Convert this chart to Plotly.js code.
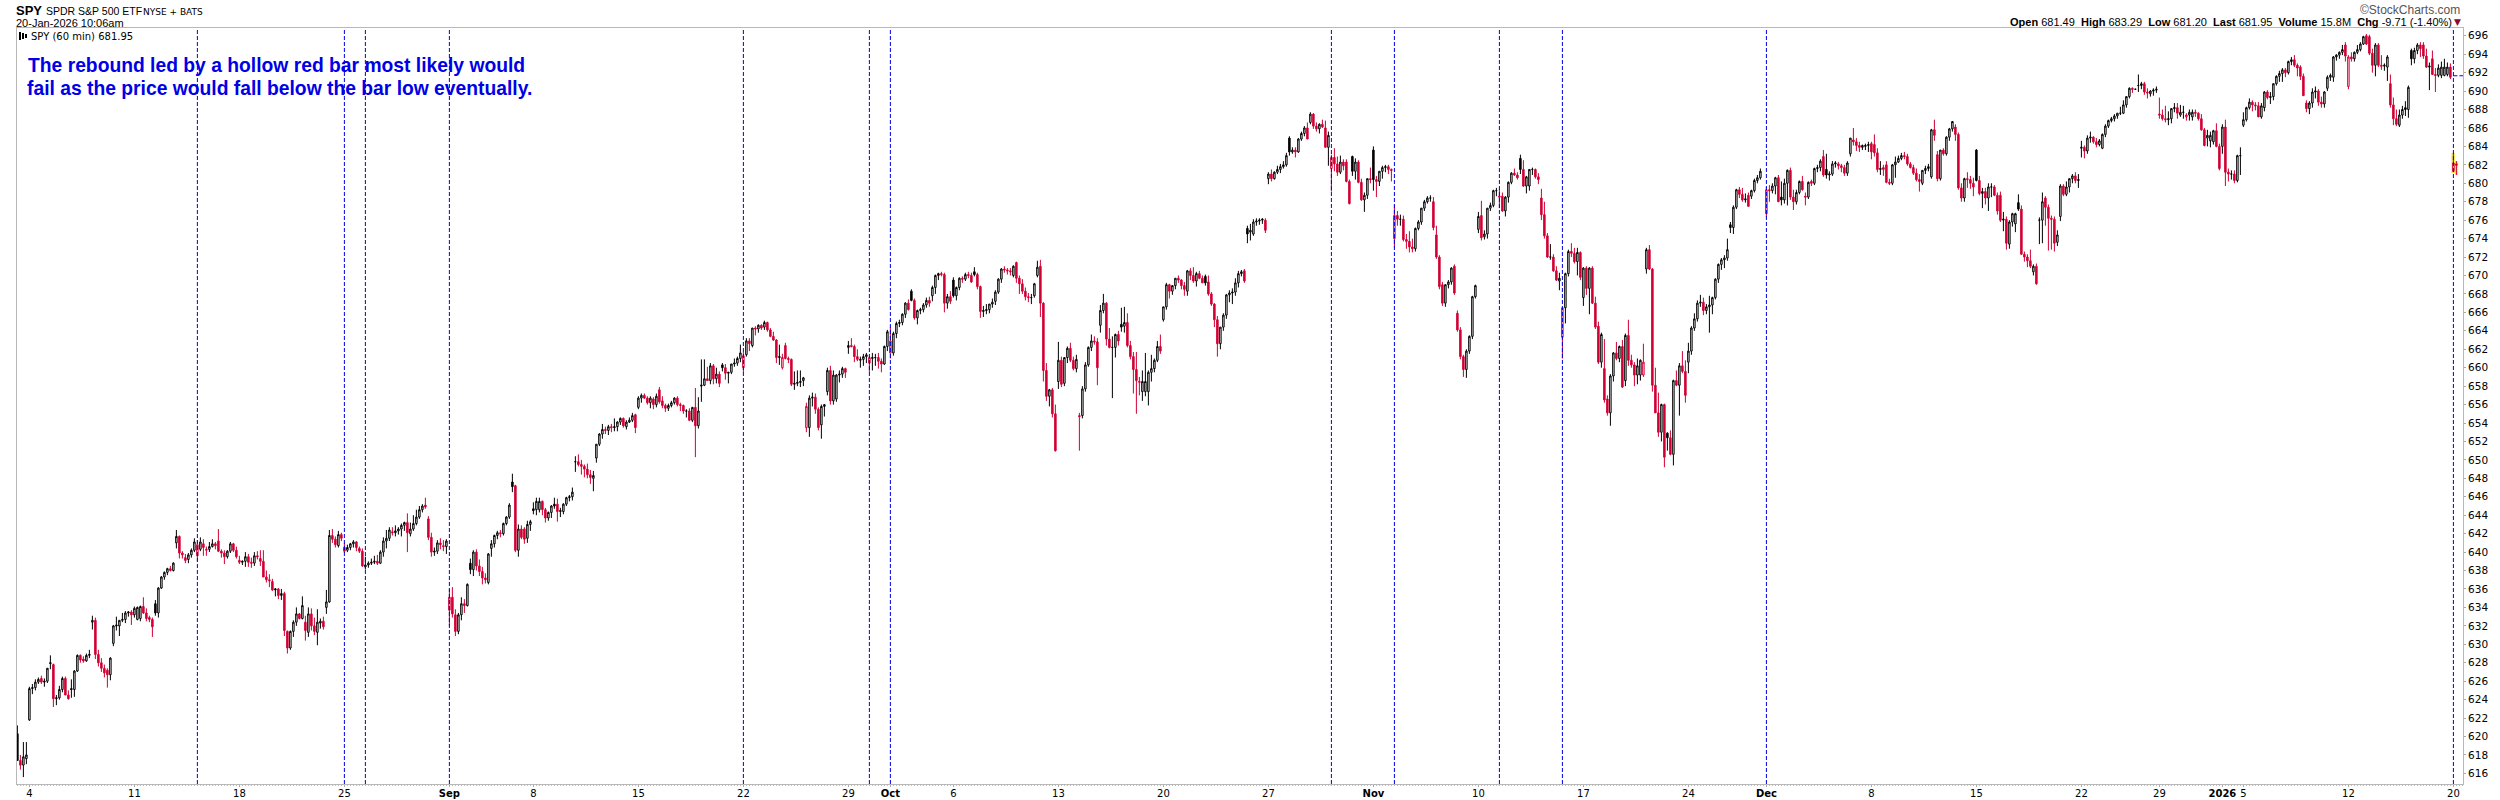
<!DOCTYPE html>
<html><head><meta charset="utf-8">
<script src="https://cdn.plot.ly/plotly-3.0.1.min.js"></script>
<style>html,body{margin:0;padding:0;background:#fff}#c{width:2500px;height:800px}</style></head>
<body><div id="c"></div>
<script>
// Each list: flat open,high,low,close per 60-minute bar.
const w0801=[620.3,621.2,617.4,617.4, 617.4,618,616.4,616.9, 616.9,619.4,615.6,617.8, 617.6,619.4,617,618];
const w0804=[621.8,625.4,621.7,625.2, 625.2,625.7,624.6,625.3, 625.3,626.2,625,625.9, 625.9,626.4,625.7,626.2, 626.3,626.6,625.7,625.9, 625.9,626.3,625.4,626, 626,627.4,625.8,627.4,
627.9,628.8,627.3,628, 627.8,627.9,623.2,624.1, 624.1,624.5,623.4,624.2, 624.2,625.5,624,625.1, 625.1,626.5,624.8,626.3, 626.3,626.5,624.5,624.5, 624.5,625,624,624.1,
625.2,626.2,624.2,625.1, 625.1,627.2,624.3,627.1, 627.1,628.9,627,628.8, 628.8,628.9,628,628.3, 628.4,628.7,628,628.2, 628.2,629,628.1,628.8, 628.8,629.4,628.5,628.9,
632.4,633.1,631.6,632.6, 632.6,632.9,628.4,628.9, 628.9,629.4,627.6,628, 628,628.5,627,627.4, 627.4,627.8,626.4,626.9, 627.2,627.4,625.3,626.7, 626.7,628.6,626.1,628.5,
630.1,632.1,629.8,632, 632.1,633,631.5,632, 632,632.4,630.9,632.6, 632.6,633.4,632.4,632.7, 632.7,633.6,632.3,633.4, 633.4,633.6,633,633.5, 633.5,633.7,632.1,633.2];
const w0811=[633.2,634.1,632.9,633.9, 632.7,634.1,632.6,634, 632.8,634.2,632.5,634.1, 634.1,635.1,633.3,633.4, 633.4,633.9,632.5,632.8, 632.9,633.1,632.4,632.7, 632.7,632.9,630.8,631.9,
634.4,634.8,633.1,633.4, 633.4,636.2,632.9,636.1, 636.1,637.4,636,637.3, 637.3,637.9,637,637.8, 637.8,638.3,637.5,638.2, 638.2,638.5,637.9,638, 638,638.9,637.9,638.8,
641,642.4,640.4,641.7, 641.7,641.8,639.3,639.9, 639.9,640.1,639.3,639.7, 639.4,639.8,638.8,639.1, 639.2,639.9,638.8,639.7, 639.7,640.4,639.4,640.2, 640.2,641.5,640,641.1,
639.6,641.3,639,640.8, 640.3,641.6,640.1,641.1, 640.9,641.4,639.6,640.5, 640.2,640.6,639.6,640.3, 640.3,641.1,640,640.6, 640.6,641.4,640.5,640.9, 640.9,641.1,640.3,640.7,
641.2,642.5,640,640.1, 640.1,640.3,639.4,639.9, 639.9,640.2,638.7,639.5, 639.5,640.2,639.3,640.1, 640.1,641.1,639.9,640.9, 640.9,641,640,640.2, 640.2,640.6,639.3,639.5];
const w0818=[639.1,639.6,638.7,638.9, 638.9,639.1,638.6,639, 639,640,638.4,639.5, 639.5,639.8,638.4,638.9, 638.9,639.4,638.3,638.8, 638.8,640,638.5,639.6, 639.6,640.1,639.2,639.5,
639.3,640.2,638.5,639, 639,640.2,637.3,637.3, 637.3,638,636.7,637, 637,637.6,636.2,636.9, 636.8,637.1,635.8,635.9, 635.9,636.1,635.2,636, 636,636.1,634.9,635.3,
635.3,636,634.8,635.5, 635.5,635.7,630.9,631.5, 631.4,631.5,629,629.6, 629.6,631.5,629.4,631.4, 631.4,632.6,630.8,632.4, 632.4,634,632,633.3, 633.3,633.4,632.7,632.8,
632.8,635.2,632.7,634.2, 632.4,633.1,630.4,631.5, 631.3,634,630.8,633.3, 633.3,633.9,631.5,632, 632,632.9,631,631.4, 631.3,633.8,629.9,632.4, 632.3,632.8,631.7,632.5,
632.5,633,631.6,631.9, 634,635.9,633.3,634.6, 634.6,642.4,634.5,641.8, 641.8,642.5,641,641.4, 641.4,641.7,640.5,640.8, 640.7,642.3,640.5,641.9, 641.9,642.1,641.2,641.5];
const w0825=[640.5,641,639.9,640.1, 640.2,640.8,640,640.5, 640.5,641,640.2,640.9, 640.9,641.3,640.5,641.1, 641.1,641.2,640.1,640.5, 640.4,640.6,639.9,640.1, 640.1,640.4,638.4,638.5,
638.4,639.5,638.1,638.6, 638.6,639,638.3,638.8, 638.8,639.3,638.6,638.9, 638.9,639.6,638.7,639, 639,639.7,638.6,638.8, 638.8,640.2,638.7,640, 640,641.6,639.5,641.2,
641.2,642.4,640.4,641.5, 641.5,642.7,641.2,642.4, 642.2,642.7,641.8,642.1, 642.1,642.9,641.7,642.3, 642.3,642.7,641.9,642.5, 642.5,643.1,641.7,642.9, 642.9,643.3,642.3,643.2,
643.2,644.2,640,642.1, 642,643.2,641.7,642.5, 642.5,644,642.3,643.1, 643.1,644.6,642.9,643.8, 643.8,645,643.6,644.6, 644.6,645.2,644.3,645, 645.1,645.9,644.7,644.9,
643.6,643.9,641.3,641.6, 641.6,642.1,639.5,640, 640,640.5,639.6,640.1, 640.1,641.3,639.8,641, 641,641.5,640.3,640.8, 640.7,641.3,640.1,640.6, 640.6,641.4,639.8,641.2];
const w0902=[633.7,636,632,635.1, 635.1,636.2,632.9,633.3, 633.2,633.8,630.9,631.4, 631.4,633.4,631.1,633.2, 633.2,635.1,632.6,634.4, 634.4,634.9,633.4,634.2, 634.2,636.6,634.1,636.5,
638.8,639.3,637.6,638.1, 638.1,640.2,637.4,640, 640,640.3,638,638.5, 638.5,639.2,637.4,637.9, 637.9,638.4,636.5,637.2, 637.2,637.7,636.6,637, 636.7,639.9,636.5,639.8,
640.4,641.3,639.5,640.9, 640.9,641.9,640.5,641.8, 641.8,642.3,641.4,642.1, 642.1,642.4,641.6,642, 642,643.2,641.8,643.1, 643.1,643.9,642.9,643.8, 643.8,645.3,643.6,645.1,
647.6,648.5,646.5,647.1, 647.2,647.3,640,640.2, 640.2,643,639.5,642.5, 642.5,642.9,641.4,641.6, 642.5,642.7,640.9,641.4, 641.5,643.4,641,643, 643,643.5,642.3,643.3];
const w0908=[644.7,645.4,644.1,644.5, 644.6,645.9,644,645.5, 644.6,645.9,644.3,645.5, 645.5,645.6,644,644.6, 644.6,644.8,643.2,643.7, 643.7,644.4,643.4,644.3, 644.3,645.1,643.7,645,
645.2,645.9,644.7,645, 645.2,645.8,643.3,644.4, 644.4,644.8,643.8,644.5, 644.4,645.3,644.1,645.2, 645.2,646,645,645.9, 645.9,646.2,645.5,646, 646,647,645.6,646.5,
649.8,650.4,648.7,649.8, 649.8,650.6,649.3,649.5, 649.5,650,648.4,649.3, 649.3,649.5,648.1,649, 649,649.6,648,648.4, 648.4,648.9,647.4,648.1, 648,648.8,646.6,648.3,
650.2,651.7,649.7,651.7, 651.7,652.9,651.5,652.8, 652.8,653.9,652.3,653.3, 653.3,653.6,652.8,653.2, 653.2,653.8,652.7,653.6, 653.6,653.9,653,653.5, 653.5,654.5,653.1,653.6,
653.6,654.2,653.1,654.1, 654.1,654.6,653.8,654.5, 654.5,654.6,653.5,653.7, 653.6,654.3,653.3,654.1, 654.1,654.6,654,654.3, 654.3,655.1,654.1,654.8, 654.9,655,652.9,653.5];
const w0915=[655.7,656.9,655.5,656.7, 656.7,657.2,656.2,657, 657,657.2,656.6,656.7, 656.7,656.9,656,656.2, 656.2,656.9,655.6,656.7, 656.6,656.8,655.5,656, 656,657.2,655.7,656.9,
657.6,657.9,656.1,656.3, 656.4,656.9,655.6,655.9, 655.9,656.1,655.2,655.6, 655.6,656.1,655.3,655.9, 655.9,656.4,655.7,656.2, 656.2,656.8,656,656.7, 656.7,656.9,655.8,656,
656,656.2,655.3,655.9, 655.9,656,655,655.3, 655.3,655.5,654.6,655.3, 655.3,655.6,654.2,654.3, 654.3,655.6,654.1,655.7, 655.7,657.8,650.3,653.7, 653.7,656.8,653.4,655.3,
658,660.9,656.3,658.1, 658.1,660.9,658,658.8, 658.8,660.1,658.6,658.6, 658.6,660.5,658.2,660.2, 660.2,660.4,658.2,658.8, 658.8,660,658.3,659.3, 659.3,659.6,657.9,658.3,
660.3,660.5,659.6,660, 660,660.4,658.7,659.4, 659.4,659.5,658.3,659.5, 659.5,660.4,659.3,660.4, 660.4,661,660.1,660.5, 660.5,661.2,660.2,661, 661,662.5,660.6,661.6];
const w0922=[660,661.7,659.5,661.3, 661.4,663.2,661.2,662.9, 662.9,663.2,661.8,662.6, 662.4,664.3,662.2,664.3, 664.3,664.5,663.5,664.2,
664.2,664.7,663.8,664.6, 664.6,664.7,664.1,664.3, 664.4,665.1,664.1,664.9, 664.9,665,663.9,664.1, 664.1,664.3,663.3,663.4, 663.4,663.9,662.9,663, 663,663.1,660.5,661.1,
661.1,662.5,660.3,661.2, 660,661.5,659.8,661.1, 662.4,662.7,660.9,661, 661,661.2,660.5,660.9, 660.9,661,658,658.2, 658.2,659.6,657.6,658.3, 658.3,659.7,658,658.4,
658.4,659.7,657.9,658.5, 658.6,659,658,658.9,
653.5,656.2,653,655.8, 653.5,657,652.5,656.7, 656.7,657.3,655.8,656.8, 656.8,657.2,655,655.5, 655.5,655.7,653.2,653.5, 653.8,656,652.3,655.8, 655.8,656,654.7,656,
657.4,660,657,659.7, 659.7,660.2,656,656.4, 656.4,659.7,656,659.2, 656.6,659.3,656.3,659.2, 659.2,659.7,658.4,659.3, 659.3,660.1,658.9,659.9, 659.9,660,658.9,659.5];
const w0929=[662.2,662.9,661.5,662.4, 662.4,663.2,662.2,662.3, 662.3,662.5,660.6,661.2, 661.2,662,660.7,660.9, 660.8,661.2,660,660.9, 660.9,661.5,660.2,661.2, 661.2,661.6,660.5,661.4,
660.5,661.3,659.5,661.1, 661,661.6,659.7,661.1, 661.1,661.5,660.2,661.1, 661.1,661.6,659.9,660.7, 660.7,661,659.5,660.4, 660.4,662.4,660.3,662.3, 662.3,664.1,661.8,663.9,
661.6,664.4,661,662.9, 661.6,663.9,661.3,663.7, 663.7,665,663.2,664.8, 664.8,665.2,664.4,664.9, 664.9,665.9,664.6,665.8, 665.8,667.1,665.4,667, 667,667.4,666.2,666.3,
668.3,668.5,667.2,667.3, 667.3,667.5,665.2,665.4, 665.4,666.3,664.7,666.2, 666.2,666.5,665.8,666.3, 666.3,667,666,666.8, 666.8,667.6,666.5,667.3, 667.3,667.7,666.6,667,
667.8,668.9,667.2,668.7, 668.7,670.1,668,670, 670,670.3,669.5,670.2, 670.2,670.4,669.9,670.1, 670.1,670.3,666,667, 667,668,666.4,667.7, 667.7,668.3,666.9,667.2];
const w1006=[669.5,669.8,667.6,667.8, 667.8,668.8,667.3,668.7, 668.7,669.8,668.4,669.7, 669.7,669.9,669.2,669.6, 669.6,670.3,669.4,670.1, 670.1,670.4,669.7,670, 670,670.3,669.2,669.3,
670.4,670.9,669.9,670.1, 670.1,670.3,668.5,668.8, 668.8,668.9,665.4,666.1, 666.1,666.7,665.5,666.2, 666.2,666.9,665.8,666.3, 666.3,666.9,665.9,666.9, 666.9,667.5,666.5,667.1,
667.2,668.4,666.8,668.2, 668.2,669.7,668,669.6, 669.6,670.8,669.2,670.7, 670.7,671,670.3,670.6, 670.6,670.8,670.1,670.5, 670.5,670.8,670,670.4, 670,671.1,669.8,671,
671.4,671.5,669.2,669.7, 669.7,670,668,669.1, 669.1,669.6,668,668.3, 668.3,668.7,667.3,667.7, 667.7,668.1,667.1,667.6, 667.6,668,666.9,667.6, 667.8,669.2,667.6,669.1,
670,671.6,669.8,670.9, 671,671.7,665.5,667, 667,667.1,658.5,659.7, 659.7,660.5,656.4,656.9, 656.9,657.7,655.8,657.6, 657.6,657.8,654.6,655, 655,656,650.9,651];
const w1013=[658.5,662.8,657.7,660.8, 660.8,661.2,657.9,658.2, 658.3,661.1,658,661.1, 661.1,662.3,660.5,662.1, 662.1,662.7,660.6,660.8, 660.8,661.2,659.7,659.9, 659.9,661.4,659.5,660.9,
654.8,655.1,651,654.7, 654.8,658,654.5,657.7, 657.7,660.6,657.4,660.3, 660.3,662.3,660.1,662.2, 662.2,663.6,661.8,662.9, 662.9,663.4,662.5,662.8,
662.8,663.2,658.1,660, 664.6,666.8,663.8,666.2, 666.2,668,665.9,667, 667,667.1,662.4,663.1, 663.1,664.3,662.1,662.2, 662.2,663.4,656.7,662.2, 662.2,663.7,661.1,663.6, 663.6,664,662.4,662.9,
664.7,666.5,663.9,664.4, 664.5,666.6,663.8,664.9, 664.9,665.9,662.2,662.4, 662.4,662.9,660.9,661.2, 661.2,661.7,657.2,659.8, 659.8,661.7,655,658.6, 658.4,659,657,658.5,
657.4,659.7,656.4,658.5, 657.4,661.6,656.9,658.5, 657.4,659.7,655.9,659.5, 659.5,661.4,658.5,659.9, 659.9,661,659.5,660.8, 660.8,662.9,660.6,662.3, 662.3,663.6,661.5,661.8];
const w1020=[665.2,666.6,665,666.6, 666.6,669.2,666.3,669, 669,669.1,667.5,668.3, 668.3,668.9,667.9,668.9, 668.9,669.7,668.5,669.7, 669.7,670,669.2,669.5, 669.5,669.6,668.5,668.9,
668.9,669.3,667.8,668.5, 668.3,670.6,667.8,670.5, 670.5,670.8,669.5,670, 670,670.9,669.2,669.4, 669.4,670.4,668.8,670.2, 670.2,670.5,669.6,669.7, 669.7,670,669.2,669.2,
669.9,670.1,668.9,669.2, 669.3,670,667.8,668, 668,668.2,666.7,666.9, 666.9,667,664.4,665.2, 665.2,665.6,661.2,662.6, 662.6,664,662,664.4, 664.4,665.9,664,665.7, 665.7,668,665.3,667.9,
667.9,668.4,667.1,668.1, 668.1,668.6,666.9,668.2, 668.2,669.7,667.8,669.2, 669.2,670.5,668.7,670.2, 670.2,670.6,669.9,670.4, 670.5,670.7,669.2,669.4, 675.1,675.4,673.5,674.5, 674.7,675.6,673.8,674.9,
674.5,676.1,674.3,675.8, 675.8,676.2,675.4,675.9, 675.9,676.2,675.5,676, 676,676.2,675.6,676.1, 676,676.2,674.6,674.9];
const w1027=[680.5,681.2,679.9,681, 681,681.5,680.2,680.5, 680.5,681.3,680.4,681.2, 681.2,681.9,681,681.5, 681.5,682.1,681.1,681.8, 681.8,682.4,681.6,682, 682,683.3,681.8,683,
684.9,685.1,683,683.4, 683.4,683.9,683.2,683.6, 683.6,683.9,682.8,683.4, 683.4,684.9,683.3,684.8, 684.8,685.6,684.6,685.4, 685.4,686.2,685.1,686, 686,686.6,684.9,684.8,
686.6,687.7,686.4,687.5, 687.5,687.6,685.9,686.2, 686.2,686.6,685.6,685.9, 685.9,686.5,685.4,686.4, 686.4,686.9,686,686.1, 686,686.8,683.9,683.9, 683.9,685.6,681.9,685.2,
681.6,683.1,679.1,682.8, 682.8,683.8,681.3,682.1, 682.1,682.9,680.8,681.2, 681.2,683,681,682.3, 682.3,682.6,681.4,681.9, 682.3,682.6,680.1,680.2, 680.2,680.4,677.7,677.8,
682.9,683,680.8,681.3, 681.3,682.7,680.4,682.3, 682.3,682.5,680,680.1, 680.1,680.5,678.1,678.2, 678.2,679,676.9,678.7, 678.7,680.3,678.3,680.5, 680.5,681.7,680,680.4,
683.6,684,679.2,680.4, 680.4,680.8,678.5,680.2, 680.2,681.3,679.7,681.3, 681.3,681.9,680.5,681.7, 681.7,682,681.2,681.8, 681.8,682,681,681.5, 681.5,681.6,680.2,681.4];
const w1106=[674,677.7,673,676.5, 676.5,677,675.4,676.1, 676.1,676.6,675.4,676.1, 676.1,676.5,673.7,673.9, 673.9,674.5,672.9,673.7, 673.7,674.8,672.5,673.1, 673.1,674,672.5,672.9,
672.9,675.2,672.6,675.1, 675.1,676,674.9,675.8, 675.8,677.3,675.5,677.3, 677.3,678.2,677,678, 678,678.6,677.8,678.4, 678.4,678.7,678,678.4, 678,678.5,674.9,675.2,
674.4,675.4,671.8,672, 672,672.2,668.5,668.8, 669,669.3,666.7,667, 667,669,666.6,669, 669,669.5,668.6,669.3, 669.3,670.9,669,670.8,
671,671.2,667.9,668.1,
665.9,666.2,663.9,664.1, 664.1,664.4,660.9,661.2, 661.2,661.4,659,659.8, 659.8,662,658.9,661.8, 661.8,663.5,661.5,663.4, 663.4,667.8,663.1,667.7, 667.7,669,667.5,668.9];
const w1110=[675,676.9,674.6,676.4, 676.5,678.1,673.8,674.1, 674.2,674.9,673.9,674.5, 674.5,677.3,674,677.3, 677.3,677.9,677,677.6, 677.6,679.3,677.4,679.2, 679.2,679.5,678.6,679.2,
678.6,679.4,677.3,678.5, 678.6,679,676.9,677, 677,678.6,676.4,678.5, 678.5,680.2,677.9,680.1, 680.1,681.2,679.9,681.1, 681.1,681.6,680.8,680.9, 680.9,681.2,680.4,680.6,
682.7,683.1,681,681.5, 681.5,682.5,679.6,679.7, 679.7,680.8,678.9,680.7, 679.7,681.5,679.2,681.5, 681.5,681.7,680.9,681.5, 681.5,681.6,680.5,680.7, 680.7,681.1,679.9,680.4,
678.4,679.4,676,676.6, 676.6,678,674,674.3, 674.3,674.6,671.9,672, 672,673.4,671.7,672, 672,672.3,670.4,670.5, 670.5,671,669.4,669.5, 669.4,670.3,668.4,669.7,
663.3,666.5,661,666.5, 666.5,670.3,664.8,670.2, 670.2,672.8,669.9,672.6, 672.6,673.5,672,672.4, 672.4,673,671.3,671.5, 671.5,673,670,672.5, 672.5,672.6,669.5,669.8];
const w1117=[667.6,670.9,666.7,670.8, 670.8,671,667.9,668.6, 668.6,670.9,665.8,670.8, 670.8,671,666.9,667, 667,667.7,664.2,664.4, 664.5,665,660.4,660.6, 660.6,663.8,660,663.6,
659.9,663.1,656.2,656.5, 656.6,657,654.8,655.1, 655.1,659.3,653.7,659.1, 659.1,661.7,658.5,661.6, 661.6,662.8,660.8,661, 661,662.4,660.6,662.3, 662.3,663,657.8,657.9,
658.6,663.7,658,663.5, 663.5,665.2,660.2,660.8, 660.8,661.4,660,660.3, 660.3,660.6,658,659.2, 659.2,661,658.2,660.2, 659.2,660.9,658.6,660.8, 659.2,662.6,659,660.6,
670.7,673,670.2,672.8, 672.8,673.3,670.6,670.7, 670.7,670.8,657.4,658.1, 658.1,660,655.2,655.1, 655.1,657.3,652.5,653, 653,656.1,652,656, 656,656.1,649.2,650.3,
652.9,653,651,652.4, 652.4,653.2,650.5,650.6, 650.6,658.7,649.4,658.6,
658.6,659.7,658,658.1, 658.1,660.5,654.8,660.2, 660.2,661.8,659.4,659.6, 659.6,660.8,656.2,657];
const w1124=[660.6,662.7,659.4,661.8, 661.8,664.5,661.4,664.3, 664.3,665.9,664,665.3,
665.3,667.3,665,667, 667,667.9,666.6,667.1, 667.1,667.6,665.7,666.2, 666.2,666.9,665.8,666.6, 666.6,667.8,663.8,666.8, 666.8,667.7,665.8,667.6, 667.6,669.7,667.4,669.6,
669.6,671.3,669.2,671.2, 671.2,671.9,670.6,671.7, 671.7,672.2,670.8,671.9, 671.9,674,671.6,672.8, 675.5,675.8,674.6,675.2, 675.2,677.6,674.5,677.4, 677.4,679.4,677.2,679.3, 679.3,679.6,678.4,678.8,
678.8,679.5,678,678.2, 678.2,678.9,677.9,678.3, 678.7,679,677.5,677.5, 678.6,679.3,678.3,679.2, 679.2,680.5,679,680.3, 680.3,680.9,680,680.6, 680.6,681.6,680.4,681.3];
const w1201=[676.7,679.6,676.3,679.3, 679.3,679.8,678,679.2, 679.2,680,678.9,679.7, 679.7,680.7,678.8,680.6, 680.6,680.9,678,678, 678.5,680.2,677.6,678.2, 678.2,680.5,677.8,680,
680,681.5,677.6,681.4, 681.4,681.7,678.2,678.5, 678.5,679.3,677.1,678, 678,679.3,677.7,679, 679,680.3,678.8,680.2, 680.2,680.8,679.2,679.3, 678.6,679,677.6,678.5, 678.5,680.2,678.3,680.1,
680.2,680.4,679.7,680, 680,681.7,679.8,681.6, 681.6,682,681.2,681.7, 681.7,682.6,681.3,682.4, 682.9,683.6,680.7,680.9, 681.5,683.2,680.5,680.9, 680.9,681.3,680.3,681, 681,682.4,680.8,682.1,
682.1,682.4,681.7,682.2, 682.1,682.3,681.5,681.9, 681.9,682.1,681.2,681.7, 681.7,682,680.8,681.1, 681.1,682.4,680.8,682.2,
683.2,684.9,682.9,684.9, 684.7,686,684.1,684.5, 684.5,684.9,683.5,684.1, 684.1,684.5,683.4,683.9, 683.9,684.2,683.6,684.1, 684,684.3,683.6,684.1, 684.1,684.5,683.4,684.2];
const w1208=[684.3,684.5,682.6,683.4, 684.2,685.3,682.9,683.3, 683.3,683.8,681.2,681.5, 681.5,682.4,680.9,681.6, 681.7,682,680.8,681.5, 682,682.4,680,680.1, 680.1,680.5,679.8,680,
680,682.1,679.8,682, 682,682.9,680.6,682.3, 682.3,683,682.2,682.7, 682.7,683.3,682.5,683, 683,683.4,682.6,682.9, 682.9,683.2,681.9,682.1, 682.1,682.3,681.6,681.7,
681.7,682,680.9,681.1, 681.1,681.6,680.2,680.4, 680.4,681,679.1,680.2, 680,681.4,679.8,681.4, 681.4,681.9,681,681.6, 681.6,682.1,681.3,681.8, 680.7,685.9,680.5,685.8,
685.8,686.9,684.6,685.2, 683.1,683.5,680.2,680.5, 680.5,683.6,680.3,683.6, 683.6,683.8,683,683.2, 683.2,685.1,683,685, 685,686,684.6,685.9, 685.9,686.7,685.6,686.7,
686.1,686.4,684.6,685.3, 685.3,685.5,679.3,679.5, 679.5,680,678,678.4, 678.4,680.6,678,680.5, 680.5,681.2,679.5,680.4, 680.4,680.8,679.4,680, 680,680.6,678.6,679.6];
const w1215=[683.6,683.7,680.2,680.3, 680.3,680.8,678.7,678.9, 678.9,679.5,677.3,679.1, 679.1,679.5,677.7,678.4, 678.4,680,677,679.6, 679.6,680,678.5,679.6, 679.6,679.8,678.6,678.7,
678.7,679,676.6,677, 678.7,679.1,675.8,676, 676,676.9,674.8,676.1, 676.1,676.4,672.8,673.5, 673.4,676,672.9,675.8, 675.8,676.8,675.3,676.7, 675.6,676.8,674.7,676.7,
677.9,678.8,677,677.2, 677.2,677.6,672.3,672.3, 672.3,672.6,671.5,672, 672,672.3,670.9,671.6, 671.6,672.8,670.8,671, 670.4,671.2,670,671, 671,671.3,669,669.1,
676,676.3,673.4,676, 676,679,673.5,678, 678.4,678.6,675.4,677.4, 677.4,677.7,672.7,676.2, 676.2,676.5,672.8,676.1, 676.1,676.4,672.6,673.5, 673.6,674.9,673.2,674.4,
676.4,679.9,675.9,679.7, 679.7,679.9,678.6,678.8, 678.8,680.2,678.6,679.6, 679.6,680.5,679,680.5, 680.5,681,680,680.8, 680.8,681.2,680,680.3, 680.3,681,679.5,680.4];
const w1222=[683.8,684.6,682.8,683.9, 683.9,684.1,682.7,683.5, 683.5,685.2,683.2,684.9, 684.9,685.6,684.4,685, 685,685.1,684.3,684.5, 684.5,684.9,683.9,684.2, 684.2,684.8,684,684.6,
683.8,685.4,683.7,685.3, 685.3,686.4,685,686.2, 686.2,686.9,686,686.8, 686.8,687.2,686.6,687, 687,687.5,686.7,687.3, 687.3,687.6,687,687.6, 687.6,688.3,687.4,687.6,
687.6,689,687.5,688.5, 688.5,689.4,688.2,689.4, 689.4,690.4,689.2,690.3, 690.3,690.4,689.8,690.2, 690.2,690.2,690.2,690.2, 690.6,691.8,689.9,690.6, 690.6,691,690.2,690.8, 690.8,691,689.6,689.9,
689.9,690.3,689.2,689.8, 689.7,690.1,689.4,690, 690,690.3,689.5,690.1, 690.1,690.5,689.8,690.2];
const w1229=[687.5,689.3,687,687.4, 687.4,688,686.8,687, 687,688.4,686.6,686.9, 686.9,687.8,686.3,687, 687,688.1,686.5,688.1, 688.1,688.7,687.7,688.2, 688.2,688.7,687,687.6,
687.4,688.5,687.2,687.7, 687.7,688.4,687,687.7, 687.2,687.6,686.8,687.4, 687.4,688,686.8,687.7, 687.2,688,686.8,687.7, 687.7,688,687.2,687.6, 687.6,687.7,686.8,687,
687,687.5,685.7,685.8, 685.8,686,684,684.1, 684.9,685.8,684,685.2, 684.6,685.6,683.9,685.2, 684.5,685.8,684.2,685.7, 685.7,686.5,683.9,684, 684,684.3,681.4,681.6,
684,686.4,683.2,686.1, 686.1,686.9,679.7,681.2, 681.2,681.6,680.2,681, 681,681.4,680.4,681, 681,681.4,680,680.3, 680.3,683.1,680.1,683, 683,683.9,680.9,683];
const w0105=[686.3,687.7,686.1,686.9, 686.9,688.3,686.7,688.2, 688.2,689.2,688,688.8, 688.8,689,687.8,688.5, 688.5,688.8,687.9,688.4, 688.4,688.8,687.2,687.2, 687.2,688.7,687,688.4,
688.2,690,687.8,689.9, 689.9,690.1,689.1,689.3, 689.3,689.9,688.6,689.4, 689.4,690.8,689,690.8, 690.8,691.7,690.6,691.6, 691.6,692.2,691,691.9, 691.9,692.5,691,692.3,
692.3,692.5,691.5,692, 692,693.3,691.8,693.2, 693.2,693.7,692.8,693.4, 693.4,693.9,692.6,692.8, 692.8,693,691.6,692.5, 692.6,692.8,691.2,691.6, 691.6,691.9,689.5,689.5,
688.7,689,687.7,688.1, 688.1,688.9,687.5,688.7, 688.7,690.3,688.2,689.9, 689.9,690.5,689.2,690, 690,690.2,688.4,688.8, 688.8,689.4,688.2,688.6, 688.6,690,688.2,689.9,
690.3,691.7,690,691.5, 691.5,691.9,691.1,691.7, 691.5,693.8,691,693.7, 693.7,694,693.3,693.9, 693.9,694.3,693.5,694.2, 694.2,695,693.9,694.5, 695,695.3,693.2,693.8];
const w0112=[690.5,693.9,690.2,693.7, 693.7,694.2,693.2,693.5, 693.5,694.3,693.2,694.2, 694.2,695,694,694.5, 694.5,695.3,694.3,695.1, 695.1,696,695,695.9, 696,696.2,695,695.1,
695.9,696.1,693.9,694.1, 694.1,694.6,692,692.8, 692.8,695.2,691.6,695, 695,695.2,692.6,692.8, 692.8,693.9,692.3,692.7, 692.7,693,692.2,692.8, 692.6,693.9,691.1,693.7,
690.8,691.8,688.2,688.5, 688.5,689.3,686.3,687, 687,688,686.2,686.4, 686.3,688,686.1,687.4, 687.4,688.4,687,688, 688.2,688.9,687.3,688, 688,690.6,687.1,690.4,
694.4,694.6,692.8,693.5, 693.5,694.7,693,694.4, 694.4,695.2,694,695, 695,695.3,693.7,694.6, 695,695.3,693.5,693.8, 693.8,694.6,692.5,692.6, 692.6,693.1,690.1,692.7,
693.5,694.4,691.8,691.8, 691.8,692.5,689.9,691.7, 691.7,692.9,691.5,692.5, 691.7,693.2,691.4,692.6, 691.7,693.5,691.6,692.6, 691.8,693.1,691.6,692.6, 692.6,693,691.3,691.5];
const w0120=[681.3,683.29,681.2,682.2, 682.1,682.4,680.9,681.95];

const weeks=[w0801,w0804,w0811,w0818,w0825,w0902,w0908,w0915,w0922,w0929,w1006,w1013,w1020,w1027,w1106,w1110,w1117,w1124,w1201,w1208,w1215,w1222,w1229,w0105,w0112,w0120];
const weekStart=[0,4,39,74,109,144,172,207,242,277,312,347,382,417,459,487,522,557,583,618,653,688,714,742,777,812];
const tickBars=[4,39,74,109,144,172,207,242,277,291,312,347,382,417,452,487,522,557,583,618,653,688,714,735,742,777,812];
const tickNames=['4','11','18','25','<b>Sep</b>','8','15','22','29','<b>Oct</b>','6','13','20','27','<b>Nov</b>','10','17','24','<b>Dec</b>','8','15','22','29','<b>2026</b>','5','12','20'];
const priceTicks=[];for(let p=616;p<=696;p+=2)priceTicks.push(p);
const markerBars=[60,109,116,144,242,284,291,438,459,494,515,583,812];
const prevClose=691.66;

const RED='#d10034',BLACK='#000000';
const groups={hb:[[],[],[],[],[]],fr:[[],[],[],[],[]],fb:[[],[],[],[],[]],hr:[[],[],[],[],[]]};
let last=null;
weeks.forEach((w,k)=>{for(let j=0;j*4<w.length;j++){
  const o=w[j*4],h=w[j*4+1],l=w[j*4+2],c=w[j*4+3],i=weekStart[k]+j;
  const down=last!==null&&c<last, hollow=c>=o;
  const g=groups[hollow?(down?'hr':'hb'):(down?'fr':'fb')];
  g[0].push(i);g[1].push(o);g[2].push(Math.max(h,o,c));g[3].push(Math.min(l,o,c));g[4].push(c);last=c;
}});
function candle(g,col,fill){const s={line:{color:col,width:1},fillcolor:fill};
  return {type:'candlestick',x:g[0],open:g[1],high:g[2],low:g[3],close:g[4],increasing:s,decreasing:s,whiskerwidth:0,showlegend:false,hoverinfo:'skip'};}
const traces=[candle(groups.hb,BLACK,'#ffffff'),candle(groups.hr,RED,'#ffffff'),candle(groups.fb,BLACK,BLACK),candle(groups.fr,RED,RED)];

const L=17,R=2463,T=28,B=784;
const px=x=>(x-L)/(R-L), py=y=>(B-y)/(B-T);
function note(x,y,text,size,family,color,anchor){return {xref:'paper',yref:'paper',x:px(x),y:py(y),text,showarrow:false,xanchor:anchor||'left',yanchor:'middle',align:'left',font:{size,family,color:color||'#000'}};}
const LS='Liberation Sans',DV='DejaVu Sans';
const annotations=[
 note(14,10,'<b>SPY</b>',13,LS),
 note(44,11,'SPDR S&P 500 ETF',10.5,LS),
 note(141,12,'NYSE + BATS',9,DV),
 note(14,23,'20-Jan-2026 10:06am',11,LS),
 note(29,36,'SPY (60 min) 681.95',10,DV),
 note(26,65,'<b>The rebound led by a hollow red bar most likely would</b>',19.3,LS,'#0000e6'),
 note(25,88,'<b>fail as the price would fall below the bar low eventually.</b>',19.3,LS,'#0000e6'),
 note(2462,10,'©StockCharts.com',12,LS,'#555','right'),
 note(2454,22,'<b>Open</b> 681.49  <b>High</b> 683.29  <b>Low</b> 681.20  <b>Last</b> 681.95  <b>Volume</b> 15.8M  <b>Chg</b> -9.71 (-1.40%)',11,LS,'#000','right'),
 note(2463,22,'▼',9,DV,'#8a0a2a','right')
];
const dash={color:'#0000e6',width:1,dash:'4px,2px'};
const shapes=markerBars.map(b=>({type:'line',xref:'x',yref:'paper',x0:b,x1:b,y0:0,y1:1,layer:'above',line:dash}));
shapes.push({type:'line',xref:'x',yref:'y',x0:812,x1:815.2,y0:prevClose,y1:prevClose,layer:'above',line:dash});
shapes.push({type:'rect',xref:'x',yref:'y',x0:811.3,x1:812.5,y0:681.1,y1:683.3,layer:'below',line:{width:0},fillcolor:'#f5ee50'});
shapes.push({type:'rect',xref:'x',yref:'y',x0:812.5,x1:813.6,y0:680.9,y1:682.4,layer:'below',line:{width:0},fillcolor:'#f5ee50'});
// small candle glyph in front of the "SPY (60 min)" label
[20,23,26].forEach((x,k)=>{shapes.push({type:'line',xref:'paper',yref:'paper',x0:px(x),x1:px(x),y0:py(32+k),y1:py(40-k),line:{color:'#000',width:2}});});

const layout={width:2500,height:800,margin:{l:L,r:2500-R,t:T,b:800-B,pad:0},paper_bgcolor:'#fff',plot_bgcolor:'#fff',showlegend:false,
 xaxis:{type:'linear',range:[-0.13,815.2],rangeslider:{visible:false},showgrid:false,zeroline:false,tickmode:'array',tickvals:tickBars,ticktext:tickNames,ticks:'outside',ticklen:2,tickcolor:'#aaa',ticklabelstandoff:-2,
  tickfont:{size:10,family:DV,color:'#000'},showline:true,linecolor:'#b8b8b8',linewidth:1,mirror:true,minor:{ticks:'outside',ticklen:1,dtick:1,tickcolor:'#bbb',showgrid:false}},
 yaxis:{side:'right',range:[614.85,696.84],showgrid:false,zeroline:false,tickmode:'array',tickvals:priceTicks,ticktext:priceTicks.map(String),ticks:'outside',ticklen:2,tickcolor:'#aaa',
  tickfont:{size:10.5,family:DV,color:'#000'},showline:true,linecolor:'#b8b8b8',linewidth:1,mirror:true},
 annotations,shapes,hovermode:false};
Plotly.newPlot('c',traces,layout,{displayModeBar:false,staticPlot:true});
</script></body></html>
